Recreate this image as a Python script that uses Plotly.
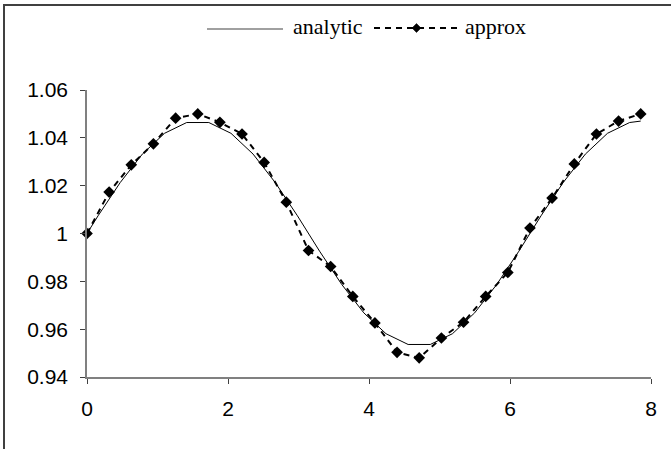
import plotly.graph_objects as go

# ---------------- data ----------------
analytic_x = [0.0, 0.157, 0.471, 0.785, 1.100, 1.414, 1.728, 2.042, 2.356, 2.670,
              2.985, 3.299, 3.613, 3.927, 4.241, 4.555, 4.869, 5.184, 5.498, 5.812,
              6.126, 6.440, 6.754, 7.069, 7.383, 7.697, 7.854]
analytic_y = [1.000, 1.0074, 1.0213, 1.0332, 1.0419, 1.0464, 1.0464, 1.0419, 1.0332, 1.0213,
              1.0074, 0.9926, 0.9787, 0.9668, 0.9581, 0.9536, 0.9536, 0.9581, 0.9668, 0.9787,
              0.9926, 1.0074, 1.0213, 1.0332, 1.0419, 1.0464, 1.0470]

approx_x = [0.0, 0.314, 0.628, 0.942, 1.257, 1.571, 1.885, 2.199, 2.513, 2.827,
            3.142, 3.456, 3.770, 4.084, 4.398, 4.712, 5.027, 5.341, 5.655, 5.969,
            6.283, 6.597, 6.912, 7.226, 7.540, 7.854]
approx_y = [1.000, 1.0173, 1.0287, 1.0375, 1.0482, 1.0500, 1.0465, 1.0416, 1.0297, 1.0131,
            0.9929, 0.9862, 0.9737, 0.9626, 0.9503, 0.9480, 0.9563, 0.9629, 0.9737, 0.9837,
            1.0023, 1.0148, 1.0291, 1.0416, 1.0470, 1.0500]

y_tickvals = [0.94, 0.96, 0.98, 1.00, 1.02, 1.04, 1.06]
y_ticktext = ["0.94", "0.96", "0.98", "1", "1.02", "1.04", "1.06"]
x_tickvals = [0, 2, 4, 6, 8]
x_ticktext = ["0", "2", "4", "6", "8"]

series_names = ["analytic", "approx"]

# ---------------- layout geometry ----------------
W, H = 671, 449
ML, MR, MT, MB = 87, 20, 90, 72
PW, PH = W - ML - MR, H - MT - MB


def px_x(p):
    return (p - ML) / PW


def px_y(p):
    return (H - MB - p) / PH


fig = go.Figure()

fig.add_trace(go.Scatter(
    x=analytic_x, y=analytic_y, mode="lines", name=series_names[0],
    line=dict(color="black", width=1), showlegend=False))

fig.add_trace(go.Scatter(
    x=approx_x, y=approx_y, mode="lines+markers", name=series_names[1],
    line=dict(color="black", width=2, dash="6px,5px"),
    marker=dict(symbol="diamond", size=9, color="black"),
    showlegend=False, cliponaxis=False))

axis_common = dict(
    showline=True, linecolor="#808080", linewidth=1.5,
    ticks="outside", ticklen=5, tickcolor="#404040", tickwidth=1,
    showgrid=False, zeroline=False,
    tickfont=dict(family="Liberation Sans, Arial", size=21, color="black"),
)

fig.update_xaxes(range=[0, 8], tickvals=x_tickvals, ticktext=x_ticktext,
                 ticklabelstandoff=7, **axis_common)
fig.update_yaxes(range=[0.94, 1.06], tickvals=y_tickvals, ticktext=y_ticktext,
                 ticklabelstandoff=8, **axis_common)

# ---------------- chart border and legend ----------------
shapes = [
    # outer chart border (left and top edges visible, right/bottom beyond the page)
    dict(type="rect", xref="paper", yref="paper",
         x0=px_x(4), x1=px_x(W + 30), y0=px_y(5), y1=px_y(H + 30),
         line=dict(color="#404040", width=2), fillcolor="rgba(0,0,0,0)",
         layer="above"),
    # legend: analytic line
    dict(type="line", xref="paper", yref="paper",
         x0=px_x(207), x1=px_x(283), y0=px_y(29), y1=px_y(29),
         line=dict(color="#808080", width=1.5)),
    # legend: approx dashed line
    dict(type="line", xref="paper", yref="paper",
         x0=px_x(374), x1=px_x(459), y0=px_y(28), y1=px_y(28),
         line=dict(color="black", width=2, dash="6px,5px")),
]
# legend diamond
cx, cy, r = 416.5, 28, 4.5
shapes.append(dict(
    type="path", xref="paper", yref="paper",
    path=(f"M {px_x(cx - r)} {px_y(cy)} L {px_x(cx)} {px_y(cy - r)} "
          f"L {px_x(cx + r)} {px_y(cy)} L {px_x(cx)} {px_y(cy + r)} Z"),
    fillcolor="black", line=dict(color="black", width=0.5)))

legend_font = dict(family="Liberation Serif, Times New Roman", size=22, color="black")
annotations = [
    dict(text=series_names[0], xref="paper", yref="paper",
         x=px_x(291), y=px_y(26), xanchor="left", yanchor="middle", showarrow=False,
         font=legend_font),
    dict(text=series_names[1], xref="paper", yref="paper",
         x=px_x(463), y=px_y(26), xanchor="left", yanchor="middle", showarrow=False,
         font=legend_font),
]

fig.update_layout(
    width=W, height=H,
    margin=dict(l=ML, r=MR, t=MT, b=MB),
    paper_bgcolor="white", plot_bgcolor="white",
    shapes=shapes, annotations=annotations,
    showlegend=False,
)

fig.write_html("out.html",
               config={"displayModeBar": False},
               post_script="document.body.style.margin='0px';document.body.style.padding='0px';")
